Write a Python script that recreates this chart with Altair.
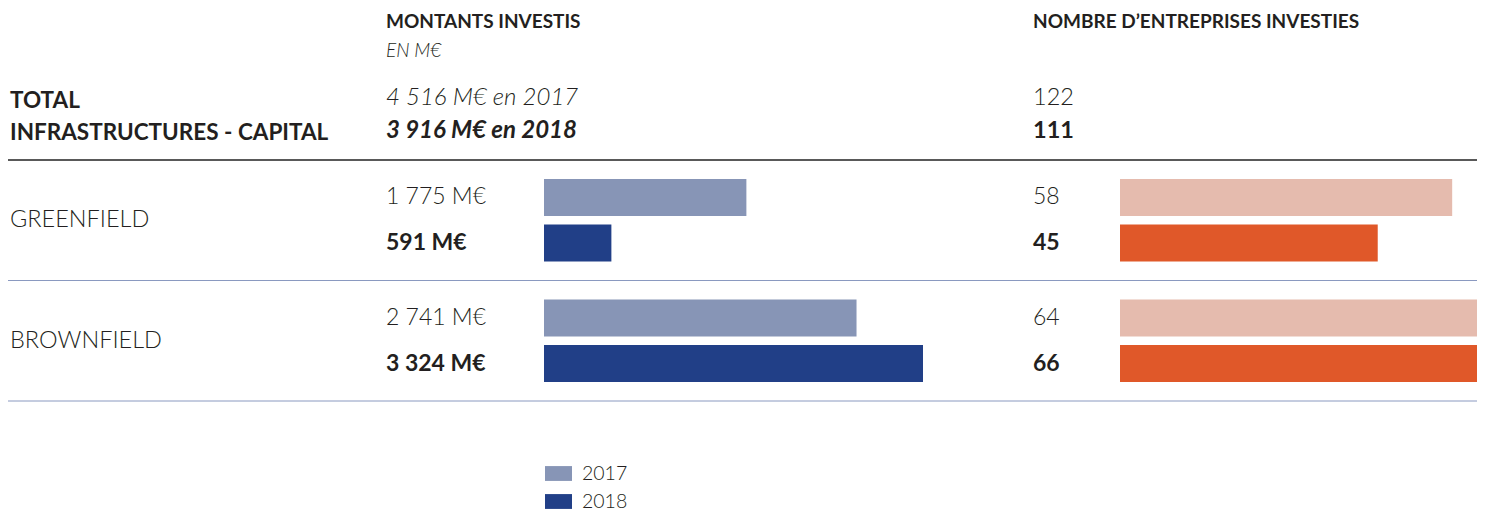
import altair as alt
import pandas as pd

# ---------------- data ----------------
categories = ["GREENFIELD", "BROWNFIELD"]
years = ["2017", "2018"]
montants_2017 = [1775, 2741]
montants_2018 = [591, 3324]
entreprises_2017 = [58, 64]
entreprises_2018 = [45, 66]
total_montants = [4516, 3916]
total_entreprises = [122, 111]

title_montants = "MONTANTS INVESTIS"
subtitle_montants = "EN M€"
title_entreprises = "NOMBRE D’ENTREPRISES INVESTIES"
total_label = ["TOTAL", "INFRASTRUCTURES - CAPITAL"]

colors_montants = ["#8795b6", "#213f87"]
colors_entreprises = ["#e5bbae", "#e05829"]

F = "Lato"
TXT = "#231f20"
W, H = 1469, 502


def fmt(v):
    return f"{v:,}".replace(",", " ")


rows = []
for i, c in enumerate(categories):
    for y, m, e in [("2017", montants_2017[i], entreprises_2017[i]),
                    ("2018", montants_2018[i], entreprises_2018[i])]:
        rows.append({"category": c, "year": y, "montant": m, "entreprises": e,
                     "label_m": fmt(m) + " M€", "label_e": str(e)})
df = pd.DataFrame(rows)
df_cat = pd.DataFrame({"category": categories})

Y = alt.Y("category:N", scale=alt.Scale(domain=categories, range=[152, 393],
                                         paddingInner=0, paddingOuter=0), axis=None)
YO = alt.YOffset("year:N", scale=alt.Scale(domain=years, paddingInner=0.187,
                                            paddingOuter=0.4176))

base = alt.Chart(df)

bars_left = base.mark_bar().encode(
    x=alt.X("montant:Q", scale=alt.Scale(domain=[0, max(montants_2018 + montants_2017)],
                                         range=[536, 915], nice=False), axis=None),
    y=Y, yOffset=YO,
    color=alt.Color("year:N", scale=alt.Scale(domain=years, range=colors_montants),
                    legend=alt.Legend(orient="none", legendX=537, legendY=452, title=None,
                                      symbolType="M-1,-0.55H1V0.55H-1Z", symbolSize=729,
                                      symbolStrokeWidth=0, labelFontSize=19.5, labelFont=F,
                                      labelFontWeight=300,
                                      labelColor=TXT, labelOffset=10, rowPadding=5,
                                      padding=0)),
)

bars_right = base.mark_bar(clip=True).encode(
    x=alt.X("entreprises:Q", scale=alt.Scale(domain=[0, max(entreprises_2017 + entreprises_2018)],
                                             range=[1112, 1490], nice=False), axis=None),
    y=Y, yOffset=YO,
    color=alt.Color("year:N", scale=alt.Scale(domain=years, range=colors_entreprises),
                    legend=None),
)


def val_text(field, x, year, bold):
    return base.transform_filter(alt.datum.year == year).mark_text(
        align="left", baseline="middle", font=F, fontSize=23,
        fontWeight="bold" if bold else 300, color=TXT
    ).encode(x=alt.value(x), y=Y, yOffset=YO, text=f"{field}:N")


t_m17 = val_text("label_m", 378, "2017", False)
t_m18 = val_text("label_m", 378, "2018", True)
t_e17 = val_text("label_e", 1025, "2017", False)
t_e18 = val_text("label_e", 1025, "2018", True)

cat_text = alt.Chart(df_cat).mark_text(
    align="left", baseline="middle", font=F, fontSize=23.5, fontWeight=300, color=TXT
).encode(x=alt.value(2), y=Y, text="category:N")

sep_rules = alt.Chart(df_cat).mark_rule(color="#8a99c0", strokeWidth=1).encode(
    y=alt.Y("category:N", scale=alt.Scale(domain=categories, range=[152, 393],
                                           paddingInner=0, paddingOuter=0),
            axis=None, bandPosition=1),
    x=alt.value(0), x2=alt.value(W),
)

top_rule = alt.Chart(pd.DataFrame({"k": [0]})).mark_rule(color="#222222", strokeWidth=1.5).encode(
    y=alt.value(152), x=alt.value(0), x2=alt.value(W)
)


def label(text, x, y, size=19, weight="normal", style="normal"):
    return alt.Chart(pd.DataFrame({"t": [text]})).mark_text(
        align="left", baseline="middle", font=F, fontSize=size,
        fontWeight=weight, fontStyle=style, color=TXT
    ).encode(x=alt.value(x), y=alt.value(y), text="t:N")


headers = [
    label(title_montants, 378, 14, 19, "bold"),
    label(subtitle_montants, 378, 43, 19, 300, "italic"),
    label(title_entreprises, 1025, 14, 19, "bold"),
    label(total_label[0], 2, 93, 22.5, "bold"),
    label(total_label[1], 2, 125, 22.5, "bold"),
    label(f"{fmt(total_montants[0])} M€ en {years[0]}", 378, 90, 24, 300, "italic"),
    label(f"{fmt(total_montants[1])} M€ en {years[1]}", 378, 123, 24, "bold", "italic"),
    label(str(total_entreprises[0]), 1025, 90, 23.5, 300),
    label(str(total_entreprises[1]), 1025, 123, 23.5, "bold"),
]

chart = alt.layer(
    top_rule, sep_rules, bars_left, bars_right,
    t_m17, t_m18, t_e17, t_e18, cat_text, *headers
).resolve_scale(x="independent", color="independent").properties(
    width=W, height=H, padding=0, autosize=alt.AutoSizeParams(type="none"),
    background="white"
).configure_view(stroke=None)

chart.save("out.html", embed_options={"renderer": "svg", "actions": False})
